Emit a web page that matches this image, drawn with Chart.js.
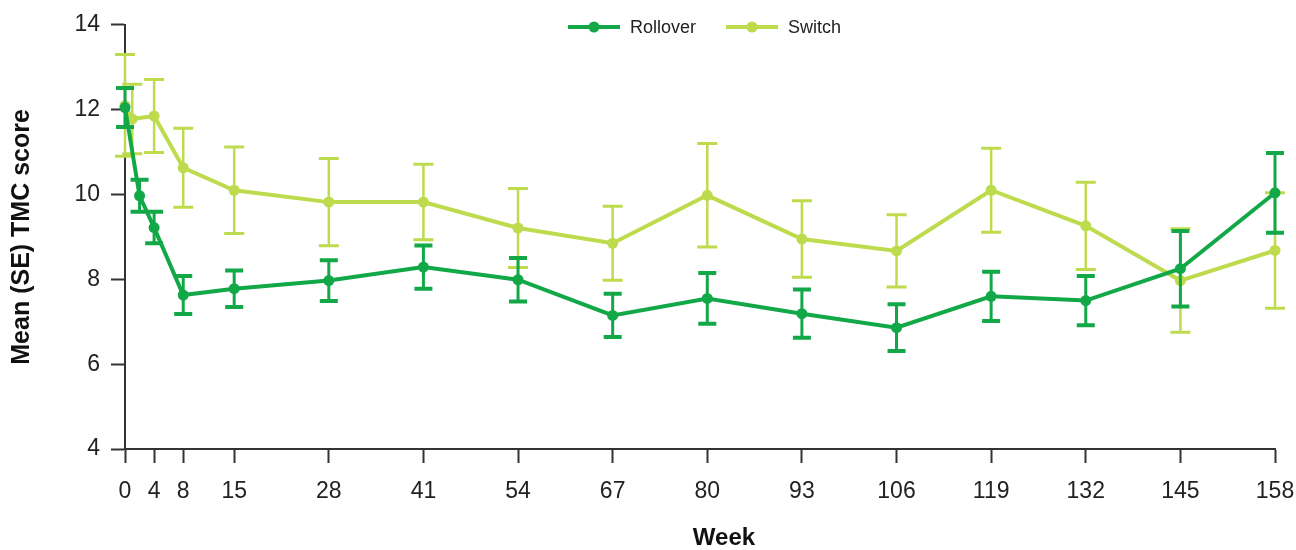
<!DOCTYPE html>
<html>
<head>
<meta charset="utf-8">
<script src="https://cdn.jsdelivr.net/npm/chart.js@4.4.1/dist/chart.umd.min.js"></script>
<style>
  html, body { margin: 0; padding: 0; background: #fff; }
</style>
</head>
<body>
<canvas id="chart" width="1296" height="550"></canvas>
<script>
// tick labels
const weekTicks = [0, 4, 8, 15, 28, 41, 54, 67, 80, 93, 106, 119, 132, 145, 158];
const scoreTicks = [4, 6, 8, 10, 12, 14];

// Rollover group: mean and SE per week
const rolloverWeeks = [0, 2, 4, 8, 15, 28, 41, 54, 67, 80, 93, 106, 119, 132, 145, 158];
const rolloverMean = [12.05, 9.97, 9.22, 7.63, 7.78, 7.97, 8.29, 7.99, 7.15, 7.55, 7.19, 6.86, 7.6, 7.5, 8.25, 10.04];
const rolloverSE = [0.46, 0.38, 0.37, 0.45, 0.43, 0.48, 0.51, 0.51, 0.51, 0.6, 0.57, 0.55, 0.58, 0.58, 0.89, 0.94];

// Switch group
const switchWeeks = [0, 1, 4, 8, 15, 28, 41, 54, 67, 80, 93, 106, 119, 132, 145, 158];
const switchMean = [12.1, 11.78, 11.85, 10.63, 10.1, 9.82, 9.82, 9.21, 8.85, 9.98, 8.95, 8.67, 10.1, 9.26, 7.97, 8.68];
const switchSE = [1.2, 0.82, 0.86, 0.93, 1.02, 1.03, 0.89, 0.93, 0.87, 1.22, 0.9, 0.85, 0.99, 1.03, 1.22, 1.36];

const rollColor = '#12a848';
const switchColor = '#bedb4e';
const FONT = "'Liberation Sans', Arial, sans-serif";

// draws the SE whiskers for each dataset right after its line
const errorBars = {
  id: 'errorBars',
  afterDatasetDraw(chart, args) {
    const ds = chart.data.datasets[args.index];
    const ctx = chart.ctx;
    const xs = chart.scales.x, ys = chart.scales.y;
    ctx.save();
    ctx.strokeStyle = ds.borderColor;
    ds.data.forEach((p, i) => {
      const px = xs.getPixelForValue(p.x);
      const top = ys.getPixelForValue(p.y + ds.se[i]);
      const bot = ys.getPixelForValue(p.y - ds.se[i]);
      ctx.lineWidth = ds.barWidth;
      ctx.beginPath();
      ctx.moveTo(px, top);
      ctx.lineTo(px, bot);
      ctx.stroke();
      ctx.lineWidth = ds.capThick;
      ctx.beginPath();
      ctx.moveTo(px - ds.capHalf, top);
      ctx.lineTo(px + ds.capHalf, top);
      ctx.moveTo(px - ds.capHalf, bot);
      ctx.lineTo(px + ds.capHalf, bot);
      ctx.stroke();
    });
    ctx.restore();
  }
};

// line-with-dot legend at the top
const topLegend = {
  id: 'topLegend',
  afterDraw(chart) {
    const ctx = chart.ctx;
    let x = 568;
    const y = 27;
    ctx.save();
    ctx.font = '18px ' + FONT;
    ctx.textBaseline = 'middle';
    chart.data.datasets.forEach(ds => {
      ctx.strokeStyle = ds.borderColor;
      ctx.lineWidth = 4;
      ctx.beginPath();
      ctx.moveTo(x, y);
      ctx.lineTo(x + 52, y);
      ctx.stroke();
      ctx.fillStyle = ds.borderColor;
      ctx.beginPath();
      ctx.arc(x + 26, y, 5.5, 0, Math.PI * 2);
      ctx.fill();
      ctx.fillStyle = '#222';
      ctx.fillText(ds.label, x + 62, y + 1);
      x += 62 + ctx.measureText(ds.label).width + 30;
    });
    ctx.restore();
  }
};

function points(weeks, vals) {
  return weeks.map((w, i) => ({ x: w, y: vals[i] }));
}

new Chart(document.getElementById('chart'), {
  type: 'line',
  data: {
    datasets: [
      {
        label: 'Rollover',
        data: points(rolloverWeeks, rolloverMean),
        se: rolloverSE,
        borderColor: rollColor,
        backgroundColor: rollColor,
        borderWidth: 4,
        pointRadius: 5.5,
        pointBorderWidth: 0,
        barWidth: 3, capThick: 4, capHalf: 9,
        clip: false
      },
      {
        label: 'Switch',
        data: points(switchWeeks, switchMean),
        se: switchSE,
        borderColor: switchColor,
        backgroundColor: switchColor,
        borderWidth: 4,
        pointRadius: 5.5,
        pointBorderWidth: 0,
        barWidth: 2.5, capThick: 3, capHalf: 10,
        clip: false
      }
    ]
  },
  options: {
    responsive: false,
    animation: false,
    devicePixelRatio: 1,
    events: [],
    layout: { padding: { top: 24, right: 21, left: 0, bottom: 0 } },
    plugins: {
      legend: { display: false },
      tooltip: { enabled: false }
    },
    scales: {
      x: {
        type: 'linear',
        min: 0,
        max: 158,
        afterBuildTicks: s => { s.ticks = weekTicks.map(v => ({ value: v })); },
        afterFit: s => { s.height = 101; s.paddingRight = 0; s.paddingLeft = 0; },
        ticks: {
          autoSkip: false,
          maxRotation: 0,
          padding: 15,
          color: '#222',
          font: { family: FONT, size: 23 }
        },
        grid: { drawOnChartArea: false, tickLength: 14, tickWidth: 2, tickColor: '#333' },
        border: { color: '#333', width: 2 },
        title: {
          display: true,
          text: '\u2003\u2003Week',
          color: '#111',
          font: { family: FONT, size: 24, weight: 'bold', lineHeight: 1 },
          padding: { top: 0, bottom: 0 }
        }
      },
      y: {
        min: 4,
        max: 14,
        afterBuildTicks: s => { s.ticks = scoreTicks.map(v => ({ value: v })); },
        afterFit: s => { s.width = 125; },
        ticks: {
          padding: 11,
          color: '#222',
          font: { family: FONT, size: 23 }
        },
        grid: { drawOnChartArea: false, tickLength: 14, tickWidth: 2, tickColor: '#333' },
        border: { color: '#333', width: 2 },
        title: {
          display: true,
          text: 'Mean (SE) TMC score',
          color: '#111',
          font: { family: FONT, size: 25, weight: 'bold', lineHeight: 1.1 },
          padding: { top: 8, bottom: 0 }
        }
      }
    }
  },
  plugins: [errorBars, topLegend]
});
</script>
</body>
</html>
